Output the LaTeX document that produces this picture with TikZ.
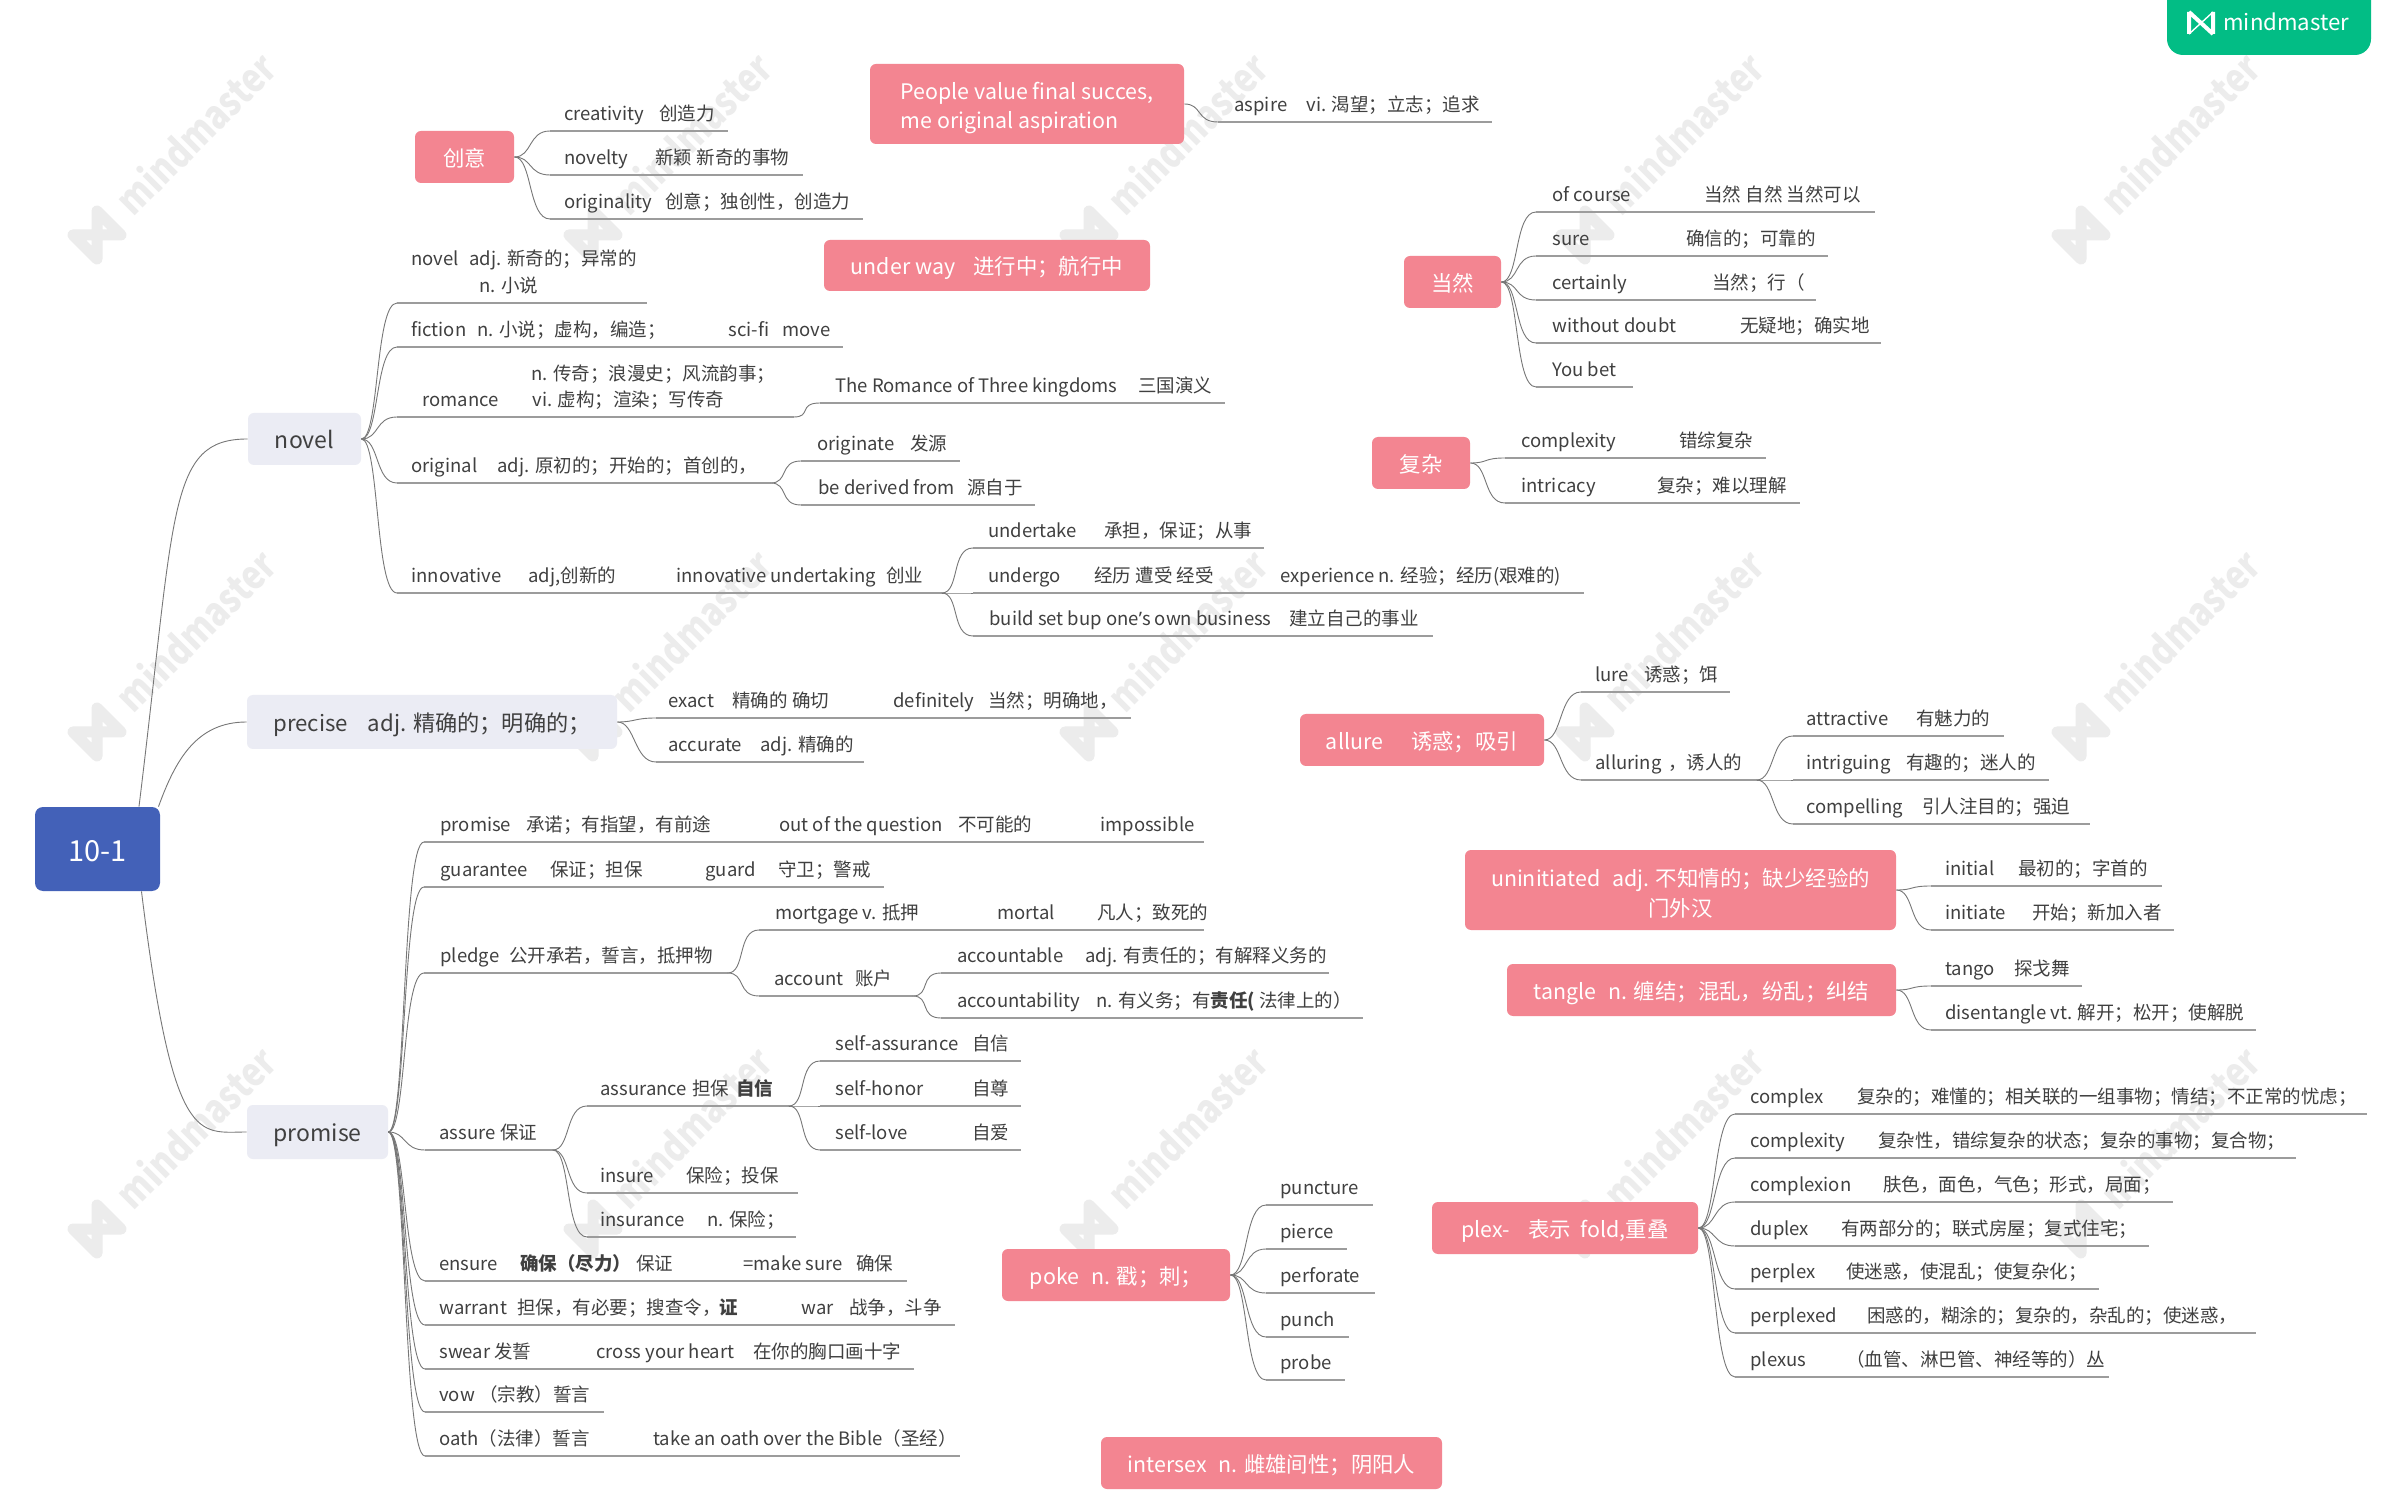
\documentclass[tikz,border=0pt]{standalone}
\usepackage{graphicx}
\usepackage{fontspec}
\setmainfont{Noto Sans CJK SC}
\newfontfamily\latinf{Noto Sans}
\usetikzlibrary{calc}
\definecolor{rootc}{HTML}{4361B8}
\definecolor{pinkc}{HTML}{F38591}
\definecolor{lvlc}{HTML}{EBECF4}
\definecolor{txtc}{HTML}{404040}
\definecolor{linec}{HTML}{777777}
\definecolor{underc}{HTML}{9C9C9C}
\definecolor{wmc}{HTML}{ECECEC}
\definecolor{logoc}{HTML}{02BD85}
\tikzset{
  x=.5pt,y=-.5pt,
  leafbox/.style={anchor=south west,inner sep=0pt,text=txtc,font=\fontsize{9.25}{11}\selectfont},
  under/.style={draw=underc,line width=.7pt},
  conn/.style={draw=linec,line width=.45pt,out=0,in=180,out distance=9pt,in distance=11pt},
  rootconn/.style={draw=linec,line width=.45pt},
  pinkbox/.style={fill=pinkc,rounded corners=3pt,text=white,inner sep=0pt,align=left,font=\fontsize{10.7}{14.7}\selectfont},
  pinkone/.style={pinkbox,text height=11.3pt,text depth=2.1pt},
  lvlbox/.style={fill=lvlc,rounded corners=3pt,text=txtc,inner sep=0pt,text height=12.2pt,text depth=2.3pt,font=\fontsize{11.5}{14}\selectfont},
  rootbox/.style={fill=rootc,rounded corners=4pt,text=white,inner sep=0pt,text height=15.4pt,text depth=2.9pt,font=\fontsize{14.5}{16}\selectfont},
  wmtext/.style={text=wmc,rotate=45,inner sep=0pt,font=\fontsize{20}{21}\selectfont\bfseries},
}
% a row of text under which a line runs: name, x0, x1, y of the line, segments
\newcommand{\leaf}[5]{\def\lx{#2}%
  \node[leafbox] (#1) at (#2,#4) {\raisebox{5.25pt}{\makebox[\dimexpr .5pt*\numexpr#3-#2\relax\relax][l]{#5}}};
  \draw[under] (#1.south west) -- (#1.south east);}
\newcommand{\seg}[2]{\rlap{\hspace*{\dimexpr .5pt*\numexpr#1-\lx\relax\relax}#2}}
\newcommand{\segup}[3]{\rlap{\hspace*{\dimexpr .5pt*\numexpr#1-\lx\relax\relax}\raisebox{\dimexpr .5pt*#2\relax}{#3}}}
% a filled box: style, name, x0, x1, y0, y1, text
\newcommand{\topic}[7]{\node[#1,minimum width={(#4-#3)*.5pt},minimum height={(#6-#5)*.5pt}] (#2) at ({(#3+#4)/2},{(#5+#6)/2}) {#7};}
\newcommand{\conn}[2]{\draw[conn] (#1.east) to (#2.south west);}
\newcommand{\sconn}[2]{\draw[conn] (#1.south east) to (#2.south west);}
\begin{document}
\begin{tikzpicture}
\useasboundingbox (0,0) rectangle (2400,1497);
\fill[white] (0,0) rectangle (2400,1497);
% watermarks
\foreach \cx in {0,1,2,3,4}{\foreach \cy in {0,1,2}{
  \begin{scope}[shift={({97+496*\cx},{235+497*\cy})}]
    \draw[wmc,line width=5.5pt,line join=round,line cap=round] (-24,0) -- (0,24) -- (0,-24) -- (24,0) -- cycle;
    \node[wmtext] at (98,-102) {\scalebox{.83}[1]{mindmaster}};
  \end{scope}
}}
% logo
\fill[logoc,rounded corners=8pt] (2167,-30) rectangle (2371,55);
\draw[white,line width=2pt] (2189,12) -- (2189,34) (2213,12) -- (2213,34) (2189,12) -- (2213,34);
\draw[white,line width=.7pt] (2213,12) -- (2189,34);
\node[anchor=west,inner sep=0pt,text=white,font=\fontsize{11.1}{14}\selectfont] (logotext) at (2223,22) {mindmaster};
% central and main topics
\topic{rootbox}{root}{35}{160}{807}{891}{10-1}
\topic{lvlbox}{novel}{248}{361}{413}{465}{novel}
\topic{lvlbox,font=\fontsize{11.1}{14}\selectfont}{precise}{247}{617}{695}{749}{precise\hspace*{10pt}adj. 精确的；明确的；}
\topic{lvlbox}{promise}{247}{388}{1105}{1159}{promise}
\draw[rootconn] ([xshift=20.75pt]root.north) to[out=83,in=180,out distance=150pt,in distance=40pt] (novel.west);
\draw[rootconn] ([xshift=30.5pt]root.north) to[out=70,in=180,out distance=25pt,in distance=25pt] (precise.west);
\draw[rootconn] ([xshift=22pt]root.south) to[out=-83,in=180,out distance=130pt,in distance=24pt] (promise.west);
% floating topics
\topic{pinkone}{chuangyi}{415}{514}{131}{183}{创意}
\topic{pinkbox}{people}{870}{1184}{64}{144}{\rule{0pt}{12.5pt}People value final succes,\\me original aspiration}
\topic{pinkone}{underway}{824}{1150}{240}{291}{under way\hspace*{9pt}进行中；航行中}
\topic{pinkone}{dangran}{1404}{1501}{256}{308}{当然}
\topic{pinkone}{fuza}{1372}{1470}{437}{489}{复杂}
\topic{pinkone}{allure}{1300}{1544}{714}{766}{allure\hspace*{14pt}诱惑；吸引}
\topic{pinkbox,align=center}{uninit}{1465}{1896}{850}{930}{\rule{0pt}{12.5pt}uninitiated\hspace*{6pt}adj. 不知情的；缺少经验的\\门外汉}
\topic{pinkone}{tangle}{1507}{1896}{964}{1016}{tangle\hspace*{6pt}n. 缠结；混乱，纷乱；纠结}
\topic{pinkone}{plex}{1432}{1698}{1202}{1254}{plex-\hspace*{9pt}表示\hspace*{5pt}fold,重叠}
\topic{pinkone}{poke}{1002}{1230}{1249}{1301}{poke\hspace*{6pt}n. 戳；刺；}
\topic{pinkone}{intersex}{1101}{1442}{1437}{1489}{intersex\hspace*{6pt}n. 雌雄间性；阴阳人}
% 创意
\leaf{creativity}{550}{727}{131}{\seg{564}{creativity}\seg{659}{创造力}}
\leaf{novelty}{550}{802}{175}{\seg{564}{novelty}\seg{655}{新颖 新奇的事物}}
\leaf{originality}{550}{862}{219}{\seg{564}{originality}\seg{665}{创意；独创性，创造力}}
\conn{chuangyi}{creativity}\conn{chuangyi}{novelty}\conn{chuangyi}{originality}
% People
\leaf{aspire}{1218}{1491}{122}{\seg{1234}{aspire}\seg{1306}{vi. 渴望；立志；追求}}
\conn{people}{aspire}
% novel
\leaf{nadj}{397}{646}{303}{\segup{411}{27}{novel}\segup{469}{27}{adj. 新奇的；异常的}\seg{479}{n. 小说}}
\leaf{fiction}{397}{842}{347}{\seg{411}{fiction}\seg{477}{n. 小说；虚构，编造；}\seg{728}{sci-fi}\seg{782}{move}}
\leaf{romance}{397}{793}{417}{\seg{422}{romance}\seg{532}{vi. 虚构；渲染；写传奇}\segup{531}{26}{n. 传奇；浪漫史；风流韵事；}}
\leaf{original}{397}{770}{483}{\seg{411}{original}\seg{497}{adj. 原初的；开始的；首创的，}}
\leaf{innovative}{397}{941}{593}{\seg{411}{innovative}\seg{528}{adj,创新的}\seg{676}{innovative undertaking}\seg{886}{创业}}
\conn{novel}{nadj}\conn{novel}{fiction}\conn{novel}{romance}\conn{novel}{original}\conn{novel}{innovative}
\leaf{threek}{820}{1224}{403}{\seg{835}{The Romance of Three kingdoms}\seg{1138}{三国演义}}
\sconn{romance}{threek}
\leaf{originate}{801}{959}{461}{\seg{817}{originate}\seg{910}{发源}}
\leaf{derived}{801}{1034}{505}{\seg{818}{be derived from}\seg{967}{源自于}}
\sconn{original}{originate}\sconn{original}{derived}
\leaf{undertake}{973}{1263}{548}{\seg{988}{undertake}\seg{1104}{承担，保证；从事}}
\leaf{undergo}{973}{1583}{593}{\seg{988}{undergo}\seg{1094}{经历 遭受 经受}\seg{1280}{experience n. 经验；经历(艰难的)}}
\leaf{build}{973}{1432}{636}{\seg{989}{build set bup one{\latinf ’}s own business}\seg{1289}{建立自己的事业}}
\sconn{innovative}{undertake}\sconn{innovative}{undergo}\sconn{innovative}{build}
% precise
\leaf{exact}{656}{1130}{718}{\seg{668}{exact}\seg{732}{精确的 确切}\seg{893}{definitely}\seg{988}{当然；明确地，}}
\leaf{accurate}{656}{863}{762}{\seg{668}{accurate}\seg{760}{adj. 精确的}}
\conn{precise}{exact}\conn{precise}{accurate}
% promise
\leaf{pmpromise}{424}{1203}{842}{\seg{440}{promise}\seg{526}{承诺；有指望，有前途}\seg{779}{out of the question}\seg{958}{不可能的}\seg{1100}{impossible}}
\leaf{guarantee}{424}{883}{887}{\seg{440}{guarantee}\seg{550}{保证；担保}\seg{705}{guard}\seg{778}{守卫；警戒}}
\leaf{pledge}{424}{727}{973}{\seg{440}{pledge}\seg{509}{公开承若，誓言，抵押物}}
\leaf{assure}{425}{552}{1150}{\seg{439}{assure}\seg{500}{保证}}
\leaf{ensure}{425}{906}{1281}{\seg{439}{ensure}\seg{520}{\bfseries 确保（尽力）}\seg{636}{保证}\seg{743}{=make sure}\seg{856}{确保}}
\leaf{warrant}{425}{954}{1325}{\seg{439}{warrant}\seg{517}{担保，有必要；搜查令，}\seg{719}{\bfseries 证}\seg{801}{war}\seg{849}{战争，斗争}}
\leaf{swear}{425}{913}{1369}{\seg{439}{swear 发誓}\seg{596}{cross your heart}\seg{753}{在你的胸口画十字}}
\leaf{vow}{425}{603}{1412}{\seg{439}{vow （宗教）誓言}}
\leaf{oath}{425}{959}{1456}{\seg{439}{oath（法律）誓言}\seg{653}{take an oath over the Bible（圣经）}}
\conn{promise}{pmpromise}\conn{promise}{guarantee}\conn{promise}{pledge}\conn{promise}{assure}\conn{promise}{ensure}\conn{promise}{warrant}\conn{promise}{swear}\conn{promise}{vow}\conn{promise}{oath}
\leaf{mortgage}{759}{1203}{930}{\seg{775}{mortgage v. 抵押}\seg{997}{mortal}\seg{1097}{凡人；致死的}}
\leaf{account}{759}{912}{996}{\seg{774}{account}\seg{855}{账户}}
\sconn{pledge}{mortgage}\sconn{pledge}{account}
\leaf{accountable}{941}{1328}{973}{\seg{957}{accountable}\seg{1085}{adj. 有责任的；有解释义务的}}
\leaf{accountability}{941}{1362}{1018}{\seg{957}{accountability}\seg{1096}{n. 有义务；有{\bfseries 责任(} 法律上的）}}
\sconn{account}{accountable}\sconn{account}{accountability}
\leaf{assurance}{587}{788}{1106}{\seg{600}{assurance}\seg{692}{担保}\seg{736}{\bfseries 自信}}
\leaf{insure}{587}{797}{1193}{\seg{600}{insure}\seg{686}{保险；投保}}
\leaf{insurance}{587}{795}{1237}{\seg{600}{insurance}\seg{707}{n. 保险；}}
\sconn{assure}{assurance}\sconn{assure}{insure}\sconn{assure}{insurance}
\leaf{selfassurance}{820}{1020}{1061}{\seg{835}{self-assurance}\seg{972}{自信}}
\leaf{selfhonor}{820}{1020}{1106}{\seg{835}{self-honor}\seg{972}{自尊}}
\leaf{selflove}{820}{1020}{1150}{\seg{835}{self-love}\seg{972}{自爱}}
\sconn{assurance}{selfassurance}\sconn{assurance}{selfhonor}\sconn{assurance}{selflove}
% poke
\leaf{puncture}{1266}{1372}{1205}{\seg{1280}{puncture}}
\leaf{pierce}{1266}{1346}{1249}{\seg{1280}{pierce}}
\leaf{perforate}{1266}{1374}{1293}{\seg{1280}{perforate}}
\leaf{punch}{1266}{1348}{1337}{\seg{1280}{punch}}
\leaf{probe}{1266}{1344}{1380}{\seg{1280}{probe}}
\conn{poke}{puncture}\conn{poke}{pierce}\conn{poke}{perforate}\conn{poke}{punch}\conn{poke}{probe}
% 当然
\leaf{ofcourse}{1536}{1874}{212}{\seg{1552}{of course}\seg{1704}{当然 自然 当然可以}}
\leaf{sure}{1536}{1827}{256}{\seg{1552}{sure}\seg{1686}{确信的；可靠的}}
\leaf{certainly}{1536}{1815}{300}{\seg{1552}{certainly}\seg{1712}{当然；行（}}
\leaf{withoutdoubt}{1536}{1880}{343}{\seg{1552}{without doubt}\seg{1740}{无疑地；确实地}}
\leaf{youbet}{1536}{1632}{387}{\seg{1552}{You bet}}
\conn{dangran}{ofcourse}\conn{dangran}{sure}\conn{dangran}{certainly}\conn{dangran}{withoutdoubt}\conn{dangran}{youbet}
% 复杂
\leaf{fzcomplexity}{1505}{1765}{458}{\seg{1521}{complexity}\seg{1679}{错综复杂}}
\leaf{intricacy}{1505}{1799}{503}{\seg{1521}{intricacy}\seg{1657}{复杂；难以理解}}
\conn{fuza}{fzcomplexity}\conn{fuza}{intricacy}
% allure
\leaf{lure}{1581}{1729}{692}{\seg{1595}{lure}\seg{1644}{诱惑；饵}}
\leaf{alluring}{1581}{1756}{780}{\seg{1595}{alluring}\seg{1668}{，诱人的}}
\conn{allure}{lure}\conn{allure}{alluring}
\leaf{attractive}{1793}{2003}{736}{\seg{1806}{attractive}\seg{1916}{有魅力的}}
\leaf{intriguing}{1793}{2048}{780}{\seg{1806}{intriguing}\seg{1906}{有趣的；迷人的}}
\leaf{compelling}{1793}{2089}{824}{\seg{1806}{compelling}\seg{1922}{引人注目的；强迫}}
\sconn{alluring}{attractive}\sconn{alluring}{intriguing}\sconn{alluring}{compelling}
% uninitiated
\leaf{initial}{1931}{2161}{886}{\seg{1945}{initial}\seg{2018}{最初的；字首的}}
\leaf{initiate}{1931}{2173}{930}{\seg{1945}{initiate}\seg{2032}{开始；新加入者}}
\conn{uninit}{initial}\conn{uninit}{initiate}
% tangle
\leaf{tango}{1931}{2081}{986}{\seg{1945}{tango}\seg{2014}{探戈舞}}
\leaf{disentangle}{1931}{2255}{1030}{\seg{1945}{disentangle vt. 解开；松开；使解脱}}
\conn{tangle}{tango}\conn{tangle}{disentangle}
% plex
\leaf{complex}{1735}{2366}{1114}{\seg{1750}{complex}\seg{1857}{复杂的；难懂的；相关联的一组事物；情结；不正常的忧虑；}}
\leaf{complexity}{1735}{2295}{1158}{\seg{1750}{complexity}\seg{1878}{复杂性，错综复杂的状态；复杂的事物；复合物；}}
\leaf{complexion}{1735}{2172}{1202}{\seg{1750}{complexion}\seg{1883}{肤色，面色，气色；形式，局面；}}
\leaf{duplex}{1735}{2148}{1246}{\seg{1750}{duplex}\seg{1841}{有两部分的；联式房屋；复式住宅；}}
\leaf{perplex}{1735}{2098}{1289}{\seg{1750}{perplex}\seg{1846}{使迷惑，使混乱；使复杂化；}}
\leaf{perplexed}{1735}{2255}{1333}{\seg{1750}{perplexed}\seg{1867}{困惑的，糊涂的；复杂的，杂乱的；使迷惑，}}
\leaf{plexus}{1735}{2108}{1377}{\seg{1750}{plexus}\seg{1846}{（血管、淋巴管、神经等的）丛}}
\conn{plex}{complex}\conn{plex}{complexity}\conn{plex}{complexion}\conn{plex}{duplex}\conn{plex}{perplex}\conn{plex}{perplexed}\conn{plex}{plexus}
\end{tikzpicture}
\end{document}
